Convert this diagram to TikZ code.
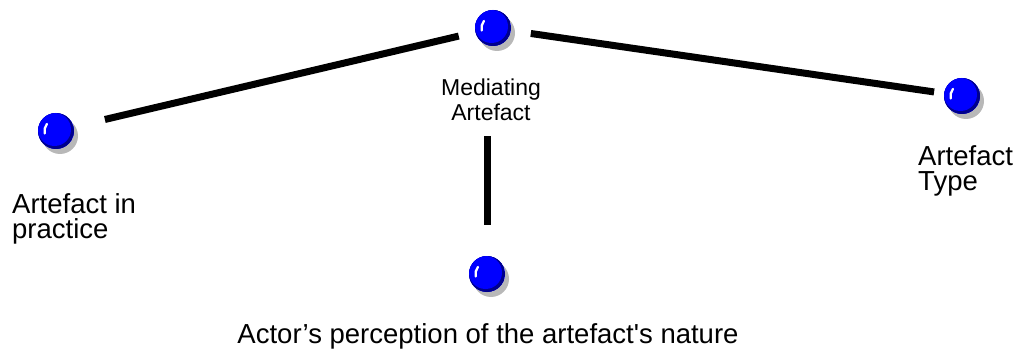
\documentclass[tikz,border=0pt]{standalone}
\usepackage{fontspec}
\setmainfont{Liberation Sans}
\usepackage{tikz}
\usetikzlibrary{positioning, shadows}

\begin{document}
\begin{tikzpicture}[
    x=1pt, y=1pt,
    ball/.style={circle, minimum size=36pt, inner sep=0pt, fill=blue,
        general shadow={fill=black!28, shadow xshift=4pt, shadow yshift=-5pt},
        path picture={
            \fill[blue!55!black] (path picture bounding box.center) circle[radius=18pt];
            \fill[blue] ([shift={(-1.5pt,1.5pt)}]path picture bounding box.center) circle[radius=16.5pt];
            \draw[white, line width=2.3pt, line cap=round]
                ([shift={(192:11.5pt)}]path picture bounding box.center) arc[start angle=192, end angle=142, radius=11.5pt];
        }},
    link/.style={line width=7pt},
    lbl/.style={font=\fontsize{27.5}{25}\selectfont, align=left, inner sep=0pt},
    smalllbl/.style={font=\fontsize{23}{25}\selectfont, align=center, inner sep=0pt}
]
    \useasboundingbox (0,0) rectangle (1014,351);

    % balls
    \node[ball] (mediate) at (493,323) {};
    \node[ball] (practice) at (56,220) {};
    \node[ball] (type) at (962,255) {};
    \node[ball] (actor) at (487,77) {};

    % labels
    \node[smalllbl, anchor=north] (medlabel) at (491,272) {Mediating\\Artefact};
    \node[lbl, anchor=north west] (practicelabel) at (12,158) {Artefact in\\practice};
    \node[lbl, anchor=north west] (typelabel) at (918,206) {Artefact\\Type};
    \node[lbl, anchor=base] (actorlabel) at (488,8) {Actor’s perception of the artefact\textquotesingle s nature};

    % links
    \draw[link, shorten <=32pt, shorten >=17pt] (practice) -- (mediate);
    \draw[link, shorten <=20pt, shorten >=10pt] (mediate) -- (type);
    \draw[link, shorten <=15pt, shorten >=31pt] (medlabel.south -| actor) -- (actor.north);
\end{tikzpicture}
\end{document}
